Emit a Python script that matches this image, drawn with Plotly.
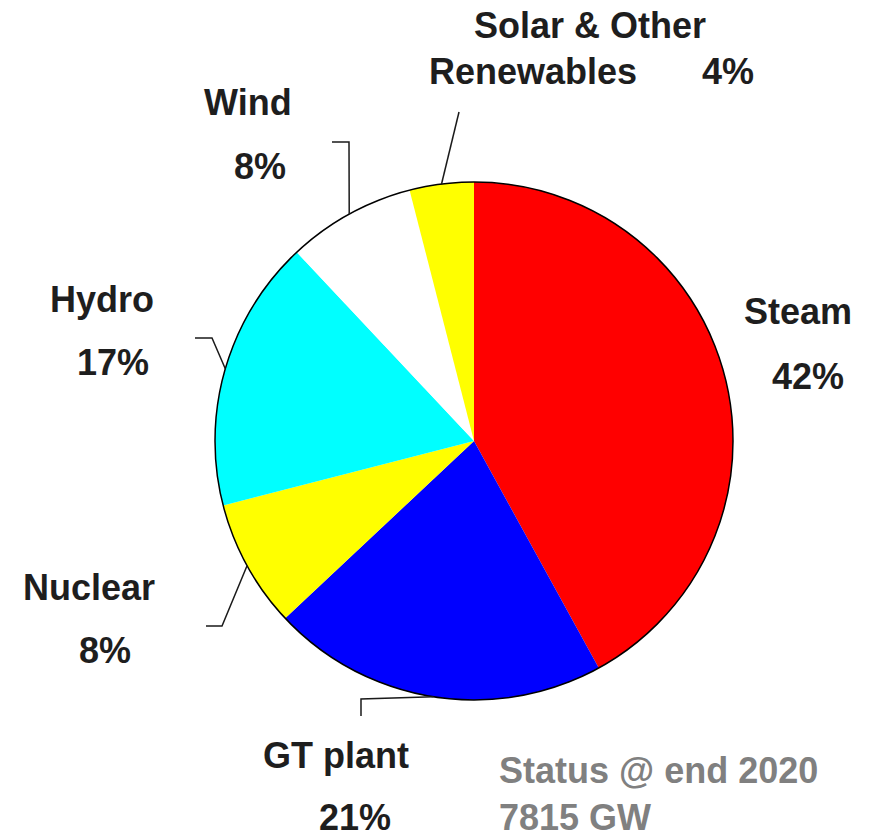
import math
import plotly.graph_objects as go

# ---- data ----
categories = ["Steam", "GT plant", "Nuclear", "Hydro", "Wind", "Solar & Other<br>Renewables"]
shares = [42, 21, 8, 17, 8, 4]
colors = ["#ff0000", "#0000ff", "#ffff00", "#00ffff", "#ffffff", "#ffff00"]
status_text = "Status @ end 2020<br>7815 GW"

W, H = 869, 835
CX, CY, R = 474, 441, 259  # pie centre / radius in pixels

def px(x):
    return x / W

def py(y):
    return 1 - y / H

fig = go.Figure(go.Pie(
    values=shares,
    labels=categories,
    marker=dict(colors=colors, line=dict(width=0)),
    sort=False,
    direction="clockwise",
    rotation=0,
    textinfo="none",
    hoverinfo="label+percent",
    showlegend=False,
    domain=dict(x=[px(CX - R), px(CX + R)], y=[py(CY + R), py(CY - R)]),
))

# outer outline of pie
shapes = [dict(type="circle", xref="paper", yref="paper",
               x0=px(CX - R), x1=px(CX + R), y0=py(CY + R), y1=py(CY - R),
               line=dict(color="black", width=1.5))]

# leader lines: start at slice mid-angle on the rim, then elbow points (layout)
elbows = {
    "Steam": None,
    "GT plant": [(361, 699), (361, 716)],
    "Nuclear": [(222, 626), (206, 626)],
    "Hydro": [(212, 338), (195, 338)],
    "Wind": [(349, 142), (332, 142)],
    "Solar & Other<br>Renewables": [(459, 112)],
}
total = sum(shares)
cum = 0
for cat, v in zip(categories, shares):
    mid = (cum + v / 2) / total * 2 * math.pi
    cum += v
    pts = elbows[cat]
    if not pts:
        continue
    sx = CX + R * math.sin(mid)
    sy = CY - R * math.cos(mid)
    path_pts = [(sx, sy)] + pts
    path = "M " + " L ".join(f"{px(x):.5f},{py(y):.5f}" for x, y in path_pts)
    shapes.append(dict(type="path", xref="paper", yref="paper", path=path,
                       line=dict(color="#1a1a1a", width=1.5)))

FONT = "Liberation Sans, Arial, Helvetica, sans-serif"
dark = "#1e1e1e"
label_pos = [
    ("Steam", 798, 311, f"{shares[0]}%", 808, 376),
    ("GT plant", 336, 755, f"{shares[1]}%", 355, 817),
    ("Nuclear", 89, 587, f"{shares[2]}%", 105, 650),
    ("Hydro", 102, 299, f"{shares[3]}%", 113, 362),
    ("Wind", 248, 102, f"{shares[4]}%", 260, 167),
]
ann = []
for name, x1, y1, pct, x2, y2 in label_pos:
    ann.append(dict(text=f"<b>{name}</b>", x=px(x1), y=py(y1), xref="paper", yref="paper",
                    xanchor="center", yanchor="middle", showarrow=False,
                    font=dict(family=FONT, size=36, color=dark)))
    ann.append(dict(text=f"<b>{pct}</b>", x=px(x2), y=py(y2), xref="paper", yref="paper",
                    xanchor="center", yanchor="middle", showarrow=False,
                    font=dict(family=FONT, size=36, color=dark)))
# solar label
ann.append(dict(text="<b>Solar & Other</b>", x=px(590), y=py(25), xref="paper", yref="paper",
                xanchor="center", yanchor="middle", showarrow=False,
                font=dict(family=FONT, size=36, color=dark)))
ann.append(dict(text="<b>Renewables</b>", x=px(533), y=py(71), xref="paper", yref="paper",
                xanchor="center", yanchor="middle", showarrow=False,
                font=dict(family=FONT, size=36, color=dark)))
ann.append(dict(text=f"<b>{shares[5]}%</b>", x=px(728), y=py(71), xref="paper", yref="paper",
                xanchor="center", yanchor="middle", showarrow=False,
                font=dict(family=FONT, size=36, color=dark)))
# status
ann.append(dict(text=f"<b>{status_text}</b>", x=px(497), y=py(794), xref="paper", yref="paper",
                xanchor="left", yanchor="middle", align="left", showarrow=False,
                font=dict(family=FONT, size=36, color="#808080")))

fig.update_layout(
    width=W, height=H,
    margin=dict(l=0, r=0, t=0, b=0),
    paper_bgcolor="white", plot_bgcolor="white",
    shapes=shapes, annotations=ann,
)
fig.write_html("out.html", config={"displayModeBar": False},
               post_script="document.body.style.margin='0';document.body.style.overflow='hidden';")
